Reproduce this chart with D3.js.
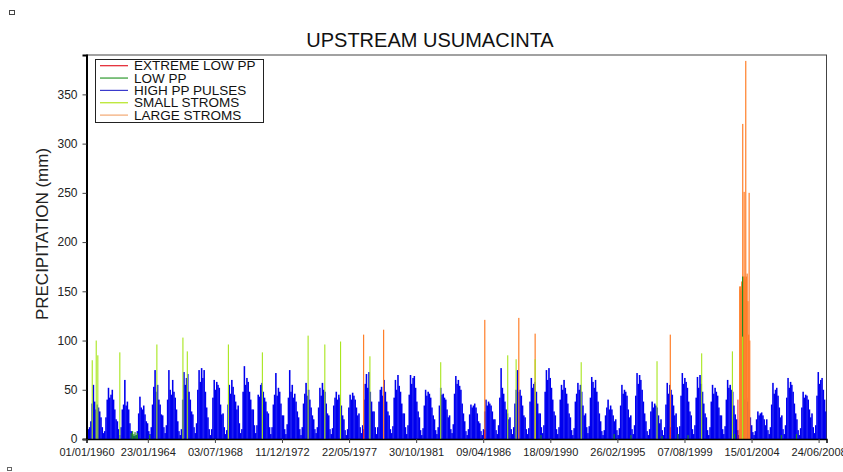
<!DOCTYPE html>
<html>
<head>
<meta charset="utf-8">
<script src="https://cdn.jsdelivr.net/npm/d3@7"></script>
<style>
  body { margin: 0; background: #fff; }
  svg { display: block; font-family: Arial, "Liberation Sans", sans-serif; }
</style>
</head>
<body>
<svg id="chart" width="843" height="472"></svg>
<script>
// ---- Data -------------------------------------------------------------
const seriesNames  = ["EXTREME LOW PP", "LOW PP", "HIGH PP PULSES", "SMALL STROMS", "LARGE STROMS"];
const seriesColors = ["#e3202b", "#1f8f1f", "#0000ee", "#a8e61d", "#ff7f2a"];
const legendColors = ["#e3202b", "#2e9a2e", "#3a3acc", "#b4e41e", "#f3a872"];

const yTicks = [0, 50, 100, 150, 200, 250, 300, 350];
const xTickLabels = ["01/01/1960", "23/01/1964", "03/07/1968", "11/12/1972", "22/05/1977",
  "30/10/1981", "09/04/1986", "18/09/1990", "26/02/1995", "07/08/1999", "15/01/2004", "24/06/2008"];

// High precipitation pulses: monthly peak daily precipitation (mm), Jan..Dec
const pulseYears = [1960, 1961, 1962, 1963, 1964, 1965, 1966, 1967, 1968, 1969,
  1970, 1971, 1972, 1973, 1974, 1975, 1976, 1977, 1978, 1979,
  1980, 1981, 1982, 1983, 1984, 1985, 1986, 1987, 1988, 1989,
  1990, 1991, 1992, 1993, 1994, 1995, 1996, 1997, 1998, 1999,
  2000, 2001, 2002, 2003, 2004, 2005, 2006, 2007, 2008];
const highPulses = [
  [14, 10, 12, 18, 36, 55, 38, 30, 35, 32, 28, 22],
  [12, 6, 8, 22, 40, 52, 42, 45, 50, 40, 30, 20],
  [18, 10, 4, 12, 30, 35, 60, 34, 38, 30, 16, 8],
  [4, 3, 3, 4, 8, 26, 43, 32, 30, 34, 25, 18],
  [16, 8, 5, 12, 35, 53, 70, 48, 55, 40, 35, 25],
  [24, 12, 6, 14, 40, 70, 50, 45, 60, 48, 42, 30],
  [18, 8, 4, 10, 40, 68, 55, 62, 66, 48, 40, 28],
  [25, 12, 6, 16, 50, 70, 58, 72, 62, 70, 48, 32],
  [22, 10, 4, 10, 42, 60, 50, 58, 55, 52, 35, 25],
  [26, 12, 5, 9, 35, 55, 46, 60, 53, 45, 38, 30],
  [34, 16, 6, 10, 48, 74, 55, 62, 58, 48, 40, 30],
  [30, 14, 6, 14, 45, 43, 55, 57, 48, 42, 38, 28],
  [26, 12, 5, 12, 35, 45, 67, 44, 52, 48, 36, 24],
  [24, 10, 5, 15, 42, 70, 48, 55, 42, 46, 38, 28],
  [22, 10, 4, 12, 36, 46, 57, 44, 50, 40, 32, 24],
  [20, 10, 6, 12, 32, 52, 44, 57, 50, 48, 36, 26],
  [24, 10, 5, 11, 34, 42, 48, 40, 45, 42, 34, 24],
  [20, 9, 4, 10, 32, 45, 40, 47, 44, 40, 32, 24],
  [26, 12, 6, 14, 40, 56, 66, 52, 68, 48, 38, 28],
  [28, 12, 5, 12, 38, 50, 53, 44, 60, 48, 38, 28],
  [24, 10, 6, 13, 42, 60, 50, 65, 54, 48, 36, 26],
  [26, 12, 5, 14, 45, 65, 56, 62, 64, 52, 38, 28],
  [22, 9, 4, 11, 34, 50, 44, 48, 46, 42, 32, 24],
  [20, 9, 5, 12, 34, 52, 45, 46, 42, 40, 30, 22],
  [24, 10, 6, 15, 46, 64, 56, 60, 54, 50, 36, 26],
  [18, 8, 4, 10, 25, 35, 32, 34, 36, 32, 26, 18],
  [16, 8, 4, 10, 28, 40, 34, 38, 36, 34, 28, 20],
  [20, 9, 5, 14, 42, 72, 52, 46, 38, 30, 26, 20],
  [22, 10, 5, 12, 36, 50, 70, 48, 50, 44, 34, 24],
  [22, 10, 5, 11, 38, 62, 52, 56, 58, 48, 36, 26],
  [26, 12, 6, 14, 48, 70, 60, 72, 62, 52, 40, 28],
  [24, 10, 5, 12, 40, 55, 50, 60, 52, 46, 36, 26],
  [22, 9, 4, 11, 38, 46, 57, 50, 55, 48, 34, 24],
  [26, 12, 6, 13, 42, 63, 58, 52, 60, 48, 38, 26],
  [18, 8, 4, 9, 24, 32, 40, 30, 34, 30, 24, 18],
  [20, 9, 4, 11, 34, 55, 46, 50, 48, 44, 30, 22],
  [24, 10, 5, 14, 44, 67, 56, 65, 60, 50, 38, 26],
  [18, 8, 4, 10, 28, 38, 32, 36, 34, 32, 24, 16],
  [20, 9, 4, 12, 35, 57, 46, 55, 50, 45, 34, 24],
  [26, 12, 5, 13, 44, 67, 56, 62, 58, 52, 38, 28],
  [24, 10, 5, 14, 42, 63, 52, 65, 56, 48, 36, 26],
  [22, 9, 4, 12, 38, 55, 46, 52, 48, 44, 32, 24],
  [24, 10, 5, 13, 40, 60, 52, 55, 50, 48, 34, 25],
  [20, 9, 4, 10, 32, 45, 40, 40, 42, 38, 30, 22],
  [14, 7, 4, 8, 20, 28, 24, 26, 27, 24, 20, 14],
  [20, 9, 5, 12, 35, 57, 46, 50, 52, 44, 32, 22],
  [24, 10, 5, 14, 42, 62, 52, 58, 55, 48, 36, 26],
  [20, 9, 4, 11, 32, 48, 42, 45, 44, 40, 30, 22],
  [26, 12, 6, 14, 44, 68, 56, 60, 62, 50, 40, 28]
];

// Dry-season low precipitation days [date, mm]
const lowPP = [
  ["1962-12-15", 6], ["1963-01-20", 8], ["1963-02-20", 5], ["1963-03-20", 7],
  ["1963-04-20", 4], ["1963-05-15", 6], ["1964-03-10", 4], ["1990-02-05", 4],
  ["1994-12-10", 5], ["1996-01-20", 4], ["1998-02-10", 3], ["1998-08-20", 4],
  ["1999-03-01", 5], ["1999-11-01", 4], ["2002-12-01", 5], ["2003-06-12", 165],
  ["2006-01-05", 4], ["2007-01-05", 5]
];

// Small storms [date, mm]
const smallStorms = [
  ["1960-05-19", 80], ["1960-08-23", 100], ["1960-10-01", 85], ["1962-03-17", 88],
  ["1964-08-29", 96], ["1966-05-21", 103], ["1966-09-04", 89], ["1969-05-25", 96],
  ["1971-08-25", 88], ["1974-09-04", 105], ["1975-10-13", 96], ["1976-10-28", 99],
  ["1978-10-08", 84], ["1983-06-16", 78], ["1987-11-23", 85], ["1988-06-13", 81],
  ["1989-09-16", 81], ["1992-10-04", 78], ["1997-10-12", 79], ["2000-09-26", 87],
  ["2002-10-09", 89], ["2003-06-12", 104]
];

// Large storms [date, mm]
const largeStorms = [
  ["1978-05-08", 106], ["1979-09-04", 111], ["1986-05-17", 121], ["1988-08-17", 123],
  ["1989-09-16", 107], ["1998-08-29", 106],
  ["2003-04-04", 155], ["2003-04-16", 152], ["2003-04-28", 155], ["2003-05-10", 150],
  ["2003-05-22", 160], ["2003-06-04", 158], ["2003-06-16", 320], ["2003-07-03", 165],
  ["2003-07-20", 251], ["2003-08-04", 165], ["2003-08-16", 162], ["2003-08-28", 384],
  ["2003-09-13", 165], ["2003-10-01", 168], ["2003-10-20", 140], ["2003-11-06", 106],
  ["2003-11-18", 250], ["2003-12-03", 100]
];

// Extreme low precipitation days [date, mm]
const extremeLow = [
  ["1978-05-08", 10], ["1986-05-17", 9], ["1998-08-29", 12], ["2003-02-20", 40]
];

// ---- Layout -----------------------------------------------------------
const plot = { left: 86.5, right: 826.5, top: 55, bottom: 439 };

const svg = d3.select("#chart");
const parseISO = d3.utcParse("%Y-%m-%d");
const parseDMY = d3.utcParse("%d/%m/%Y");

const x = d3.scaleUtc()
  .domain([Date.UTC(1960, 0, 1), Date.UTC(2009, 0, 1)])
  .range([plot.left, plot.right]);
const y = d3.scaleLinear().domain([0, 390]).range([plot.bottom, plot.top]);

svg.append("defs").append("clipPath").attr("id", "plotClip")
  .append("rect")
  .attr("x", plot.left).attr("y", plot.top)
  .attr("width", plot.right - plot.left).attr("height", plot.bottom - plot.top);

// Small corner marks of the page
svg.append("rect").attr("x", 9.5).attr("y", 10.5).attr("width", 5).attr("height", 4)
  .attr("fill", "none").attr("stroke", "#444").attr("stroke-width", 1);
svg.append("rect").attr("x", 7.5).attr("y", 467.5).attr("width", 4).attr("height", 3)
  .attr("fill", "none").attr("stroke", "#666").attr("stroke-width", 1);

// Title
svg.append("text").attr("x", 430).attr("y", 47).attr("text-anchor", "middle")
  .attr("font-size", 20).attr("fill", "#111").text("UPSTREAM USUMACINTA");

// Frame
svg.append("rect")
  .attr("x", plot.left).attr("y", plot.top)
  .attr("width", plot.right - plot.left).attr("height", plot.bottom - plot.top)
  .attr("fill", "none").attr("stroke", "#444").attr("stroke-width", 1);

const marks = svg.append("g").attr("clip-path", "url(#plotClip)");

// Monthly high-pulse bars (slightly widened so neighbouring months join without seams)
const pulseBars = [];
pulseYears.forEach((yr, i) => {
  highPulses[i].forEach((v, m) => {
    pulseBars.push({ t0: Date.UTC(yr, m, 1), t1: Date.UTC(yr, m + 1, 1), v });
  });
});
marks.append("g").selectAll("rect").data(pulseBars).join("rect")
  .attr("x", d => x(d.t0) - 0.15)
  .attr("width", d => x(d.t1) - x(d.t0) + 0.3)
  .attr("y", d => y(d.v))
  .attr("height", d => y(0) - y(d.v))
  .attr("fill", seriesColors[2]);

function spikes(data, color, width) {
  marks.append("g").selectAll("rect").data(data).join("rect")
    .attr("x", d => x(parseISO(d[0])) - width / 2)
    .attr("width", width)
    .attr("y", d => y(d[1]))
    .attr("height", d => y(0) - y(d[1]))
    .attr("fill", color);
}
spikes(largeStorms, seriesColors[4], 1.2);
spikes(lowPP, seriesColors[1], 1.1);
spikes(smallStorms, seriesColors[3], 1.1);
spikes(extremeLow, seriesColors[0], 1.0);

// Axes
const yAxis = d3.axisLeft(y).tickValues(yTicks).tickSize(4).tickPadding(5);
const gy = svg.append("g").attr("transform", `translate(${plot.left},0)`).call(yAxis);
gy.select(".domain").attr("stroke", "#000").attr("stroke-width", 2);
gy.selectAll(".tick line").attr("stroke", "#444");
gy.selectAll("text").attr("font-size", 12).attr("fill", "#222")
  .attr("font-family", "Arial, 'Liberation Sans', sans-serif");

const xTickDates = xTickLabels.map(parseDMY);
const xAxis = d3.axisBottom(x).tickValues(xTickDates).tickSize(4).tickPadding(5)
  .tickFormat((d, i) => xTickLabels[i]);
const gx = svg.append("g").attr("transform", `translate(0,${plot.bottom})`).call(xAxis);
gx.select(".domain").attr("stroke", "#000").attr("stroke-width", 1.5);
gx.selectAll(".tick line").attr("stroke", "#444");
gx.selectAll("text").attr("font-size", 11).attr("fill", "#222")
  .attr("font-family", "Arial, 'Liberation Sans', sans-serif");

// Y axis title
svg.append("text")
  .attr("transform", "translate(48,234) rotate(-90)")
  .attr("text-anchor", "middle").attr("font-size", 17).attr("fill", "#222")
  .text("PRECIPITATION (mm)");

// Legend
const lg = svg.append("g");
lg.append("rect").attr("x", 95.5).attr("y", 59.5).attr("width", 168).attr("height", 63)
  .attr("fill", "#fff").attr("stroke", "#222").attr("stroke-width", 1);
seriesNames.forEach((name, i) => {
  const cy = 65.7 + i * 12.35;
  lg.append("line").attr("x1", 100).attr("x2", 128).attr("y1", cy).attr("y2", cy)
    .attr("stroke", legendColors[i]).attr("stroke-width", 1.2);
  lg.append("text").attr("x", 134).attr("y", cy + 4.7).attr("font-size", 13.5)
    .attr("fill", "#111").text(name);
});
</script>
</body>
</html>
